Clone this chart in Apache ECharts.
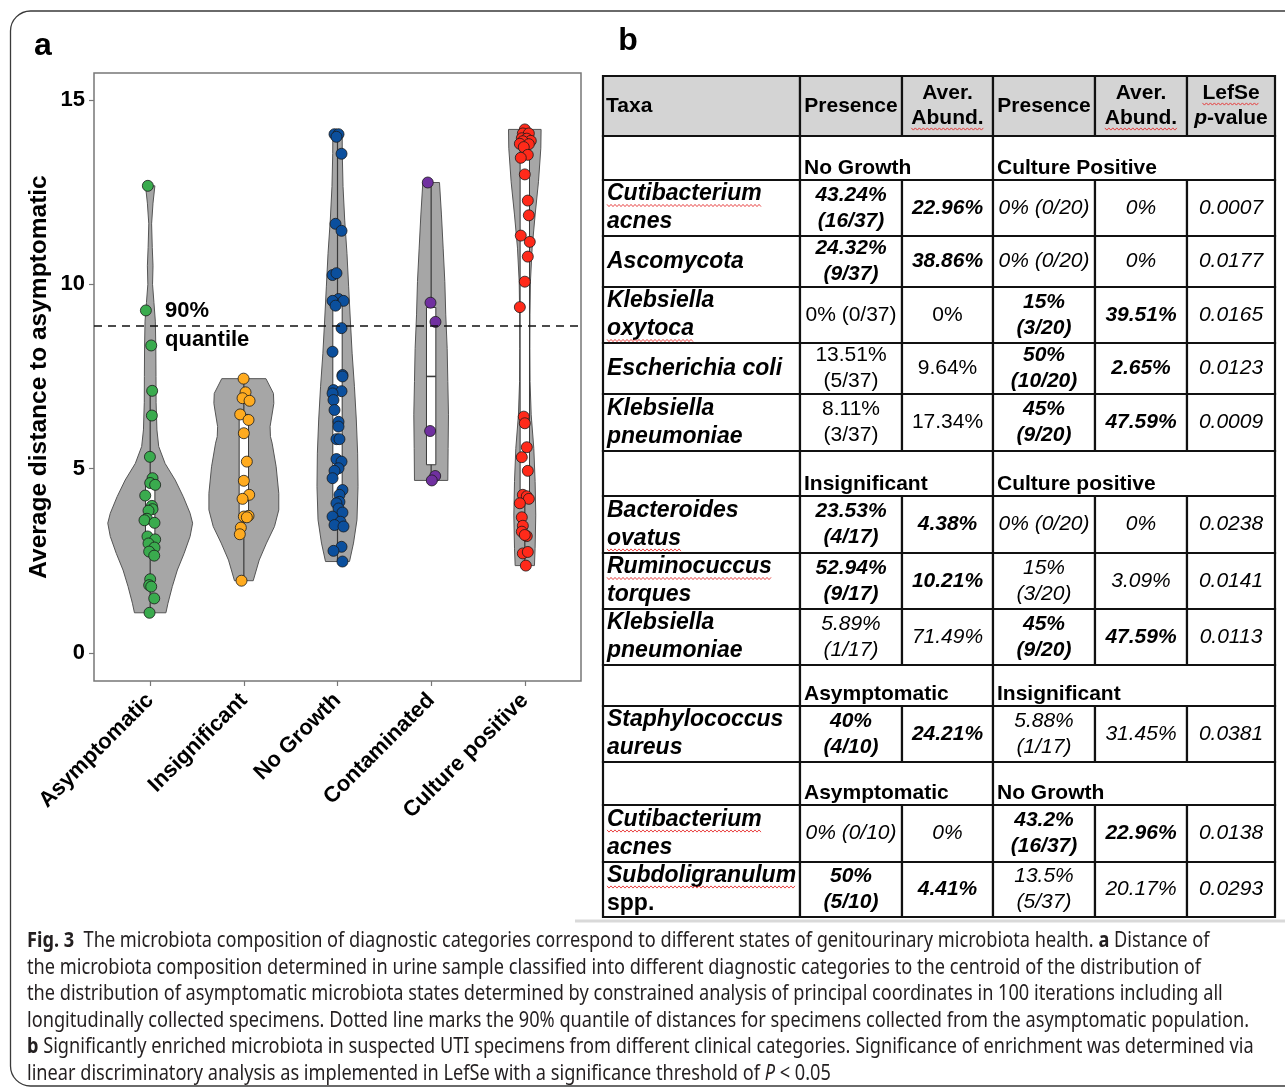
<!DOCTYPE html>
<html><head><meta charset="utf-8">
<script src="https://cdn.jsdelivr.net/npm/echarts@6/dist/echarts.min.js"></script>
<style>html,body{margin:0;padding:0;background:#fff;}#c{width:1285px;height:1092px;}</style>
</head><body><div id="c"></div>
<script>
// ---------------- DATA ----------------
const categories = ['Asymptomatic', 'Insignificant', 'No Growth', 'Contaminated', 'Culture positive'];
const yTicks = [0, 5, 10, 15];
const quantile90 = 8.88;

const asymptomaticValues = [12.67,9.29,8.34,7.11,6.44,5.32,4.74,4.61,4.56,4.27,3.99,3.90,3.86,3.64,3.60,3.53,3.16,3.08,2.97,2.86,2.75,2.64,2.00,1.84,1.80,1.48,1.09];
const asymptomaticJitter = [-0.025,-0.046,0.011,0.021,0.018,-0.003,0.025,0,0.053,-0.053,0.018,0.025,-0.018,-0.035,-0.061,0.046,-0.029,0.053,-0.018,0.046,-0.011,0.043,0,-0.011,0.011,0.043,-0.007];
const insignificantValues = [7.44,7.07,6.91,6.84,6.47,6.32,5.96,5.19,4.67,4.29,4.18,3.72,3.70,3.68,3.40,3.22,1.96];
const insignificantJitter = [-0.003,0.018,-0.014,0.061,-0.039,0.050,0,0.032,0,0.057,-0.014,0.050,0,0.032,-0.032,-0.043,-0.025];
const noGrowthValues = [14.07,14.07,14.00,13.54,11.64,11.45,10.25,10.30,9.60,9.55,9.55,9.42,8.81,8.17,7.54,7.50,7.13,7.10,7.04,6.86,6.59,6.27,6.14,5.80,5.80,5.26,5.19,5.01,4.94,4.74,4.42,4.29,4.10,4.06,3.92,3.81,3.70,3.56,3.47,3.43,2.88,2.77,2.48];
const noGrowthJitter = [-0.032,0.011,-0.011,0.043,-0.021,0.043,-0.053,-0.011,0.011,-0.053,0.064,-0.021,0.043,-0.053,0.053,0.053,-0.043,0.043,-0.053,-0.043,-0.032,0.011,0.011,-0.011,0.021,-0.011,0.043,0.011,-0.032,-0.053,0.053,0.021,0.021,-0.011,0.011,0.053,-0.053,0.032,-0.032,0.064,0.043,-0.043,0.053];
const contaminatedValues = [12.76,9.50,8.98,6.02,4.80,4.68];
const contaminatedJitter = [-0.036,-0.007,0.046,-0.011,0.043,0.007];
const culturePositiveValues = [14.20,14.09,14.09,13.96,13.95,13.89,13.88,13.81,13.80,13.72,13.51,13.43,12.98,12.27,11.87,11.32,11.15,10.75,10.07,9.38,6.41,6.23,5.58,5.31,4.94,4.29,4.25,4.18,4.06,3.68,3.45,3.29,3.17,3.20,2.70,2.74,2.37];
const culturePositiveJitter = [0,-0.021,0.043,-0.032,0.021,0.064,-0.021,-0.053,0.043,-0.011,0.032,-0.043,0,0.032,0.043,-0.043,0.053,0.032,0,-0.053,-0.011,0,0.021,-0.032,0.032,-0.021,0.021,0.043,-0.053,-0.032,-0.021,-0.032,0.021,0,-0.021,0.032,0.011];

// violin density profiles: [value, half width in category units]
const asymptomaticViolin = [[12.67,0.050],[12.2,0.030],[11.64,0.015],[11.0,0.022],[10.5,0.030],[10.0,0.025],[9.5,0.040],[9.0,0.055],[8.3,0.060],[7.5,0.062],[6.8,0.063],[6.05,0.072],[5.60,0.091],[5.14,0.159],[4.69,0.267],[4.24,0.353],[3.79,0.426],[3.52,0.453],[3.16,0.426],[2.70,0.362],[2.25,0.290],[1.80,0.236],[1.35,0.190],[1.09,0.168]];
const insignificantViolin = [[7.44,0.236],[7.04,0.316],[6.77,0.320],[6.59,0.309],[6.14,0.280],[5.87,0.284],[5.69,0.302],[5.05,0.345],[4.33,0.373],[3.88,0.373],[3.43,0.327],[2.98,0.242],[2.52,0.164],[1.96,0.100]];
const noGrowthViolin = [[14.07,0.050],[13.55,0.051],[12.65,0.059],[11.74,0.077],[10.84,0.101],[9.93,0.119],[9.03,0.137],[8.13,0.156],[7.22,0.181],[6.32,0.201],[5.42,0.215],[4.51,0.219],[3.61,0.208],[2.98,0.171],[2.48,0.128]];
const contaminatedViolin = [[12.76,0.089],[11.88,0.110],[10.98,0.128],[10.07,0.146],[9.17,0.156],[8.26,0.171],[7.36,0.178],[6.46,0.185],[5.55,0.181],[4.68,0.178]];
const culturePositiveViolin = [[14.20,0.174],[13.69,0.171],[12.78,0.146],[11.88,0.110],[10.98,0.078],[10.07,0.060],[9.17,0.055],[8.26,0.054],[7.36,0.056],[6.46,0.068],[5.55,0.096],[4.65,0.110],[3.74,0.117],[2.84,0.110],[2.37,0.103]];

// table
const tableHeader = ['Taxa', 'Presence', 'Aver.\nAbund.', 'Presence', 'Aver.\nAbund.', 'LefSe\np-value'];
const tableGroups = [['No Growth', 'Culture Positive'], ['Insignificant', 'Culture positive'], ['Asymptomatic', 'Insignificant'], ['Asymptomatic', 'No Growth']];
const tableTaxa = [
  ['Cutibacterium\nacnes', 'Ascomycota', 'Klebsiella\noxytoca', 'Escherichia coli', 'Klebsiella\npneumoniae'],
  ['Bacteroides\novatus', 'Ruminocuccus\ntorques', 'Klebsiella\npneumoniae'],
  ['Staphylococcus\naureus'],
  ['Cutibacterium\nacnes', 'Subdoligranulum\nspp.']
];
const tableValues = [
  [['43.24%\n(16/37)', '22.96%', '0% (0/20)', '0%', '0.0007'],
   ['24.32%\n(9/37)', '38.86%', '0% (0/20)', '0%', '0.0177'],
   ['0% (0/37)', '0%', '15%\n(3/20)', '39.51%', '0.0165'],
   ['13.51%\n(5/37)', '9.64%', '50%\n(10/20)', '2.65%', '0.0123'],
   ['8.11%\n(3/37)', '17.34%', '45%\n(9/20)', '47.59%', '0.0009']],
  [['23.53%\n(4/17)', '4.38%', '0% (0/20)', '0%', '0.0238'],
   ['52.94%\n(9/17)', '10.21%', '15%\n(3/20)', '3.09%', '0.0141'],
   ['5.89%\n(1/17)', '71.49%', '45%\n(9/20)', '47.59%', '0.0113']],
  [['40%\n(4/10)', '24.21%', '5.88%\n(1/17)', '31.45%', '0.0381']],
  [['0% (0/10)', '0%', '43.2%\n(16/37)', '22.96%', '0.0138'],
   ['50%\n(5/10)', '4.41%', '13.5%\n(5/37)', '20.17%', '0.0293']]
];
// emphasis of each value cell: b = bold italic, i = italic, r = regular
const tableEmphasis = [
  [['b','b','i','i','i'],['b','b','i','i','i'],['r','r','b','b','i'],['r','r','b','b','i'],['r','r','b','b','i']],
  [['b','b','i','i','i'],['b','b','i','i','i'],['i','i','b','b','i']],
  [['b','b','i','i','i']],
  [['i','i','b','b','i'],['b','b','i','i','i']]
];
// spell-check squiggle under which line of the taxa name (-1 none)
const taxaSquiggle = [[0,-1,1,-1,-1],[1,0,-1],[-1],[0,0]];

const captionLines = [
  '{fb|Fig. 3}  The microbiota composition of diagnostic categories correspond to different states of genitourinary microbiota health. {b|a} Distance of',
  'the microbiota composition determined in urine sample classified into different diagnostic categories to the centroid of the distribution of',
  'the distribution of asymptomatic microbiota states determined by constrained analysis of principal coordinates in 100 iterations including all',
  'longitudinally collected specimens. Dotted line marks the 90% quantile of distances for specimens collected from the asymptomatic population.',
  '{b|b} Significantly enriched microbiota in suspected UTI specimens from different clinical categories. Significance of enrichment was determined via',
  'linear discriminatory analysis as implemented in LefSe with a significance threshold of {i|P} < 0.05'
];

// ---------------- RENDER ----------------
const FONT = 'Liberation Sans, Arial, Helvetica, sans-serif';
const CAPFONT = 'Noto Sans, Open Sans, sans-serif';
const CAPSIZE = 21;
const groupValues = [asymptomaticValues, insignificantValues, noGrowthValues, contaminatedValues, culturePositiveValues];
const groupJitter = [asymptomaticJitter, insignificantJitter, noGrowthJitter, contaminatedJitter, culturePositiveJitter];
const groupViolin = [asymptomaticViolin, insignificantViolin, noGrowthViolin, contaminatedViolin, culturePositiveViolin];
const pointColors = ['#3aab4e', '#ffab1f', '#0b4f9d', '#7030a0', '#ff2a1a'];

function q7(s, p) { const h = (s.length - 1) * p, lo = Math.floor(h); const hi = Math.min(lo + 1, s.length - 1); return s[lo] + (h - lo) * (s[hi] - s[lo]); }
const boxStats = groupValues.map(v => {
  const s = v.slice().sort((a, b) => a - b);
  const q1 = q7(s, 0.25), med = q7(s, 0.5), q3 = q7(s, 0.75), iqr = q3 - q1;
  const lo = s.find(x => x >= q1 - 1.5 * iqr), hi = s.slice().reverse().find(x => x <= q3 + 1.5 * iqr);
  return { q1, med, q3, lo, hi };
});

const chart = echarts.init(document.getElementById('c'), null, { renderer: 'canvas' });

const series = [{
  type: 'custom',
  data: categories.map((c, i) => [i, boxStats[i].med]),
  encode: { x: 0, y: 1 },
  z: 2,
  silent: true,
  renderItem: function (params, api) {
    const i = api.value(0);
    const prof = groupViolin[i];
    const right = prof.map(p => api.coord([i + p[1], p[0]]));
    const left = prof.slice().reverse().map(p => api.coord([i - p[1], p[0]]));
    const st = boxStats[i], bw = 0.05;
    const tl = api.coord([i - bw, st.q3]), br = api.coord([i + bw, st.q1]);
    const m = api.coord([i, st.med]), wt = api.coord([i, st.hi]), wb = api.coord([i, st.lo]);
    return {
      type: 'group', children: [
        { type: 'polygon', shape: { points: right.concat(left) }, style: { fill: '#a6a6a6', stroke: '#555', lineWidth: 1 } },
        { type: 'line', shape: { x1: wt[0], y1: wt[1], x2: wb[0], y2: wb[1] }, style: { stroke: '#3a3a3a', lineWidth: 1.2 } },
        { type: 'rect', shape: { x: tl[0], y: tl[1], width: br[0] - tl[0], height: br[1] - tl[1] }, style: { fill: '#fff', stroke: '#3a3a3a', lineWidth: 1 } },
        { type: 'line', shape: { x1: tl[0], y1: m[1], x2: br[0], y2: m[1] }, style: { stroke: '#3a3a3a', lineWidth: 1.6 } }
      ]
    };
  }
}];
categories.forEach((c, i) => {
  const s = {
    type: 'scatter', name: c, z: 3, symbolSize: 11,
    data: groupValues[i].map((v, k) => [i + groupJitter[i][k], v]),
    itemStyle: { color: pointColors[i], borderColor: '#1a1a1a', borderWidth: 0.8, opacity: 1 }
  };
  if (i === 0) {
    s.markLine = { silent: true, symbol: ['none', 'none'], label: { show: false },
      lineStyle: { type: [8, 6], color: '#111', width: 1.6 }, data: [{ yAxis: quantile90 }] };
  }
  series.push(s);
});

// ---- graphic elements ----
const els = [];
els.push({ type: 'rect', z: 1, shape: { x: 10.5, y: 11, width: 1320, height: 1075, r: 20 }, style: { fill: 'none', stroke: '#3a3a3a', lineWidth: 1.3 } });
els.push({ type: 'text', x: 43, y: 46, style: { text: 'a', fontSize: 32, fontWeight: 'bold', fontFamily: FONT, fill: '#000', align: 'center', verticalAlign: 'middle' } });
els.push({ type: 'text', x: 628, y: 41, style: { text: 'b', fontSize: 32, fontWeight: 'bold', fontFamily: FONT, fill: '#000', align: 'center', verticalAlign: 'middle' } });
els.push({ type: 'text', x: 165, y: 311, z: 5, style: { text: '90%', fontSize: 22, fontWeight: 'bold', fontFamily: FONT, fill: '#000', align: 'left', verticalAlign: 'middle' } });
els.push({ type: 'text', x: 165, y: 340, z: 5, style: { text: 'quantile', fontSize: 22, fontWeight: 'bold', fontFamily: FONT, fill: '#000', align: 'left', verticalAlign: 'middle' } });

// table
const colX = [603, 800, 902, 993, 1095, 1187, 1275];
const rowY = [76, 136, 180, 236, 287, 343, 394, 451, 496, 553, 609, 665, 706, 762, 805, 862, 917];
const rich = {
  t: { fontSize: 23, fontWeight: 'bold', fontStyle: 'italic', lineHeight: 28, fontFamily: FONT, fill: '#000' },
  tb: { fontSize: 23, fontWeight: 'bold', lineHeight: 28, fontFamily: FONT, fill: '#000' },
  b: { fontSize: 21, fontWeight: 'bold', fontStyle: 'italic', lineHeight: 26, fontFamily: FONT, fill: '#000' },
  i: { fontSize: 21, fontStyle: 'italic', lineHeight: 26, fontFamily: FONT, fill: '#000' },
  r: { fontSize: 21, lineHeight: 26, fontFamily: FONT, fill: '#000' },
  h: { fontSize: 21, fontWeight: 'bold', lineHeight: 25, fontFamily: FONT, fill: '#000' },
  hi: { fontSize: 21, fontWeight: 'bold', fontStyle: 'italic', lineHeight: 25, fontFamily: FONT, fill: '#000' }
};
const mctx = document.createElement('canvas').getContext('2d');
function measure(text, font) { mctx.font = font; return mctx.measureText(text).width; }
function squiggle(x0, x1, y) {
  const pts = []; let k = 0;
  for (let x = x0; x <= x1; x += 2, k++) pts.push([x, y + (k % 2 ? 1.1 : -1.1)]);
  els.push({ type: 'polyline', z: 12, shape: { points: pts }, style: { stroke: '#e53030', lineWidth: 0.9, fill: 'none' } });
}
function cell(x0, y0, x1, y1, fill) {
  els.push({ type: 'rect', z: 10, shape: { x: x0, y: y0, width: x1 - x0, height: y1 - y0 }, style: { fill: fill, stroke: '#111', lineWidth: 2.2 } });
}
function rtext(x, y, text, align, va) {
  els.push({ type: 'text', z: 11, x: x, y: y, style: { text: text, rich: rich, align: align, verticalAlign: va || 'middle' } });
}
// header
for (let c = 0; c < 6; c++) cell(colX[c], rowY[0], colX[c + 1], rowY[1], '#d4d4d4');
const hy = (rowY[0] + rowY[1]) / 2;
rtext(colX[0] + 3, hy, '{h|' + tableHeader[0] + '}', 'left');
for (let c = 1; c < 6; c++) {
  const lines = tableHeader[c].split('\n');
  let t;
  if (lines[1] && lines[1].indexOf('p-') === 0) t = '{h|' + lines[0] + '}\n{hi|p}{h|' + lines[1].slice(1) + '}';
  else t = lines.map(l => '{h|' + l + '}').join('\n');
  rtext((colX[c] + colX[c + 1]) / 2, hy, t, 'center');
  const hf = 'bold 21px ' + FONT;
  if (lines.length === 2) {
    const sqLine = lines[0] === 'LefSe' ? 0 : 1;
    const w = measure(lines[sqLine], hf), cx = (colX[c] + colX[c + 1]) / 2;
    const ly = hy + (sqLine === 0 ? -12.5 : 12.5) + 10.5;
    squiggle(cx - w / 2, cx + w / 2, ly);
  }
}
let r = 1;
tableGroups.forEach((g, si) => {
  const y0 = rowY[r], y1 = rowY[r + 1];
  cell(colX[0], y0, colX[1], y1, '#fff');
  cell(colX[1], y0, colX[3], y1, '#fff');
  cell(colX[3], y0, colX[6], y1, '#fff');
  rtext(colX[1] + 4, y1 - 12, '{h|' + g[0] + '}', 'left');
  rtext(colX[3] + 4, y1 - 12, '{h|' + g[1] + '}', 'left');
  r++;
  tableTaxa[si].forEach((taxon, ti) => {
    const a = rowY[r], b = rowY[r + 1], cy = (a + b) / 2;
    for (let c = 0; c < 6; c++) cell(colX[c], a, colX[c + 1], b, '#fff');
    const tl = taxon.split('\n');
    const tt = tl.map(l => (l === 'spp.' ? '{tb|' : '{t|') + l + '}').join('\n');
    rtext(colX[0] + 4, cy, tt, 'left');
    const sq = taxaSquiggle[si][ti];
    if (sq >= 0) {
      const w = measure(tl[sq], 'italic bold 23px ' + FONT);
      const ly = cy + (tl.length === 2 ? (sq === 0 ? -14 : 14) : 0) + 11.5;
      squiggle(colX[0] + 4, Math.min(colX[0] + 4 + w, colX[1] - 1), ly);
    }
    tableValues[si][ti].forEach((v, vi) => {
      const st = tableEmphasis[si][ti][vi];
      const t = v.split('\n').map(l => '{' + st + '|' + l + '}').join('\n');
      rtext((colX[vi + 1] + colX[vi + 2]) / 2, cy, t, 'center');
    });
    r++;
  });
});

// caption
els.push({ type: 'line', z: 1, shape: { x1: 575, y1: 921, x2: 1285, y2: 921 }, style: { stroke: '#d9d9d9', lineWidth: 3 } });
const capRich = {
  fb: { fontWeight: 'bold', fontSize: CAPSIZE, fontFamily: CAPFONT, fill: '#231f20' },
  b: { fontWeight: 'bold', fontSize: CAPSIZE, fontFamily: CAPFONT, fill: '#231f20' },
  i: { fontStyle: 'italic', fontSize: CAPSIZE, fontFamily: CAPFONT, fill: '#231f20' }
};
const capScale = 1222 / measure(captionLines[3], CAPSIZE + 'px ' + CAPFONT);
captionLines.forEach((l, k) => {
  els.push({ type: 'text', z: 5, x: 27, y: 941 + k * 26.6, scaleX: capScale, style: {
    text: l, rich: capRich, fontSize: CAPSIZE, fontFamily: CAPFONT, fill: '#231f20', align: 'left', verticalAlign: 'middle' } });
});

chart.setOption({
  animation: false,
  backgroundColor: '#fff',
  grid: { left: 94, top: 73, width: 487, height: 608, show: true, borderColor: '#777', borderWidth: 1.5, backgroundColor: 'transparent' },
  xAxis: {
    type: 'value', min: -0.6, max: 4.6,
    axisLine: { show: false, onZero: false }, splitLine: { show: false },
    axisTick: { show: true, customValues: [0, 1, 2, 3, 4], length: 5, lineStyle: { color: '#777', width: 1.2 } },
    axisLabel: { customValues: [0, 1, 2, 3, 4], formatter: v => categories[Math.round(v)], rotate: 45, margin: 16,
      fontSize: 22, fontWeight: 'bold', color: '#000', fontFamily: FONT }
  },
  yAxis: {
    type: 'value', min: -0.76, max: 15.73,
    name: 'Average distance to asymptomatic', nameLocation: 'middle', nameGap: 42,
    nameTextStyle: { fontSize: 24.5, fontWeight: 'bold', color: '#000', fontFamily: FONT },
    axisLine: { show: false, onZero: false }, splitLine: { show: false },
    axisTick: { show: true, customValues: yTicks, length: 5, lineStyle: { color: '#777', width: 1.2 } },
    axisLabel: { customValues: yTicks, margin: 9, fontSize: 22, fontWeight: 'bold', color: '#000', fontFamily: FONT }
  },
  series: series,
  graphic: { elements: els }
});
</script></body></html>
